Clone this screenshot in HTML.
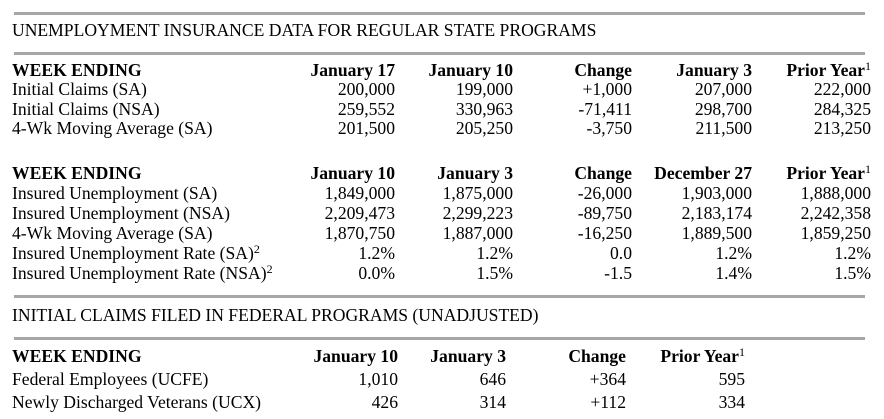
<!DOCTYPE html>
<html><head><meta charset="utf-8"><style>
body{margin:0;width:884px;height:419px;background:#fff;position:relative;overflow:hidden;font-family:"Liberation Serif","Times New Roman",serif;font-size:17.6px;color:#000}
.r{position:absolute;height:3px;background:#a6a6a6;left:14px;width:851px}
.t{position:absolute;white-space:nowrap;line-height:20px}
.c{position:absolute;white-space:nowrap;line-height:20px;text-align:right;width:200px}
.a{line-height:19.4px}
b{font-weight:bold}
sup{font-size:12px;line-height:0;vertical-align:6px}
</style></head><body>
<div class="r" style="top:12px"></div>
<div class="t" style="left:12px;top:20px">UNEMPLOYMENT INSURANCE DATA FOR REGULAR STATE PROGRAMS</div>
<div class="r" style="top:52px"></div>

<div class="t a" style="left:12px;top:61px"><b>WEEK ENDING</b><br>Initial Claims (SA)<br>Initial Claims (NSA)<br>4-Wk Moving Average (SA)</div>

<div class="c a" style="left:195px;top:61px"><b>January 17</b><br>200,000<br>259,552<br>201,500</div>
<div class="c a" style="left:313px;top:61px"><b>January 10</b><br>199,000<br>330,963<br>205,250</div>
<div class="c a" style="left:432px;top:61px"><b>Change</b><br>+1,000<br>-71,411<br>-3,750</div>
<div class="c a" style="left:552px;top:61px"><b>January 3</b><br>207,000<br>298,700<br>211,500</div>
<div class="c a" style="left:671px;top:61px"><b>Prior Year</b><sup>1</sup><br>222,000<br>284,325<br>213,250</div>

<div class="t" style="left:12px;top:163px;line-height:20px"><b>WEEK ENDING</b><br>Insured Unemployment (SA)<br>Insured Unemployment (NSA)<br>4-Wk Moving Average (SA)<br>Insured Unemployment Rate (SA)<sup>2</sup><br>Insured Unemployment Rate (NSA)<sup>2</sup></div>
<div class="c" style="left:195px;top:163px"><b>January 10</b><br>1,849,000<br>2,209,473<br>1,870,750<br>1.2%<br>0.0%</div>
<div class="c" style="left:313px;top:163px"><b>January 3</b><br>1,875,000<br>2,299,223<br>1,887,000<br>1.2%<br>1.5%</div>
<div class="c" style="left:432px;top:163px"><b>Change</b><br>-26,000<br>-89,750<br>-16,250<br>0.0<br>-1.5</div>
<div class="c" style="left:552px;top:163px"><b>December 27</b><br>1,903,000<br>2,183,174<br>1,889,500<br>1.2%<br>1.4%</div>
<div class="c" style="left:671px;top:163px"><b>Prior Year</b><sup>1</sup><br>1,888,000<br>2,242,358<br>1,859,250<br>1.2%<br>1.5%</div>

<div class="r" style="top:295px"></div>
<div class="t" style="left:12px;top:305px">INITIAL CLAIMS FILED IN FEDERAL PROGRAMS (UNADJUSTED)</div>
<div class="r" style="top:337px"></div>

<div class="t" style="left:12px;top:345px;line-height:23px"><b>WEEK ENDING</b><br>Federal Employees (UCFE)<br>Newly Discharged Veterans (UCX)</div>
<div class="c" style="left:198px;top:345px;line-height:23px"><b>January 10</b><br>1,010<br>426</div>
<div class="c" style="left:306px;top:345px;line-height:23px"><b>January 3</b><br>646<br>314</div>
<div class="c" style="left:426px;top:345px;line-height:23px"><b>Change</b><br>+364<br>+112</div>
<div class="c" style="left:545px;top:345px;line-height:23px"><b>Prior Year</b><sup>1</sup><br>595<br>334</div>
</body></html>
